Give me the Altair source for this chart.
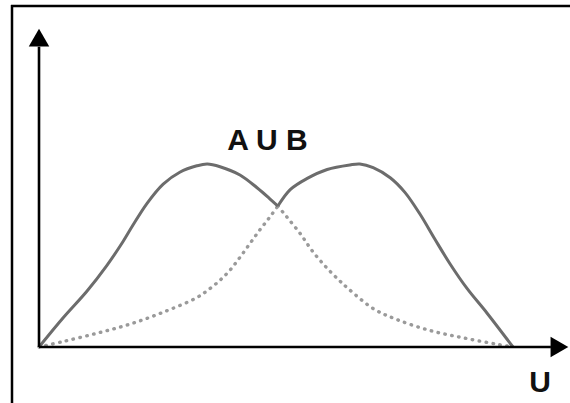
import altair as alt
import pandas as pd

# Membership functions over the universe U (u from 0 to 10, membership 0..1)
# A: visible part (upper envelope) and hidden part (below B)
a_solid_u = [0, 0.51, 1.01, 1.43, 1.77, 1.98, 2.28, 2.62, 2.97, 3.33, 3.55, 3.82, 4.24, 4.60, 4.87, 5.04]
a_solid_m = [0, 0.16, 0.305, 0.445, 0.575, 0.665, 0.785, 0.89, 0.955, 0.99, 1.00, 0.985, 0.94, 0.87, 0.81, 0.77]
a_dot_u = [5.04, 5.23, 5.51, 5.78, 6.08, 6.35, 6.52, 7.05, 7.55, 8.25, 8.95, 9.66, 10]
a_dot_m = [0.77, 0.71, 0.62, 0.52, 0.43, 0.36, 0.32, 0.21, 0.15, 0.09, 0.05, 0.015, 0]

# B: hidden part (below A) and visible part (upper envelope)
b_dot_u = [0, 0.51, 1.22, 1.92, 2.62, 3.33, 3.61, 3.82, 4.03, 4.24, 4.45, 4.66, 4.87, 5.04]
b_dot_m = [0, 0.03, 0.075, 0.125, 0.19, 0.27, 0.32, 0.365, 0.42, 0.49, 0.565, 0.64, 0.71, 0.77]
b_solid_u = [5.04, 5.30, 5.65, 6.08, 6.56, 6.77, 7.05, 7.41, 7.72, 8.04, 8.35, 8.67, 9.03, 9.45, 10]
b_solid_m = [0.77, 0.86, 0.92, 0.97, 0.995, 1.00, 0.98, 0.925, 0.845, 0.725, 0.59, 0.455, 0.32, 0.186, 0]

# Axis extents and arrow heads
axis_x_end = 10.80
axis_y_end = 1.64
arrow_x = [10.98]
arrow_y = [1.69]

label_text = ["A U B", "U"]
label_u = [4.82, 10.57]
label_m = [1.077, -0.246]

X_DOMAIN = [-0.823, 11.203]
Y_DOMAIN = [-0.306, 1.896]

xs = alt.Scale(domain=X_DOMAIN, nice=False, zero=False)
ys = alt.Scale(domain=Y_DOMAIN, nice=False, zero=False)


def curve(us, ms, name):
    return pd.DataFrame({"u": us, "m": ms, "series": name})


solid = pd.concat([curve(a_solid_u, a_solid_m, "A"), curve(b_solid_u, b_solid_m, "B")])
dotted = pd.concat([curve(a_dot_u, a_dot_m, "A"), curve(b_dot_u, b_dot_m, "B")])

X = alt.X("u:Q", scale=xs, axis=None)
Y = alt.Y("m:Q", scale=ys, axis=None)

dotted_lines = alt.Chart(dotted).mark_line(
    color="#9a9a9a", strokeWidth=3.4, strokeDash=[0.5, 6.5], strokeCap="round",
    interpolate="catmull-rom",
).encode(x=X, y=Y, detail="series:N")

solid_lines = alt.Chart(solid).mark_line(
    color="#6c6c6c", strokeWidth=3, interpolate="catmull-rom",
).encode(x=X, y=Y, detail="series:N")

axes_df = pd.DataFrame({
    "u": [0, 0], "u2": [axis_x_end, 0],
    "m": [0, 0], "m2": [0, axis_y_end],
})
axes = alt.Chart(axes_df).mark_rule(color="#000000", strokeWidth=2.6).encode(
    x=alt.X("u:Q", scale=xs, axis=None), x2="u2:Q",
    y=alt.Y("m:Q", scale=ys, axis=None), y2="m2:Q",
)

head_x = alt.Chart(pd.DataFrame({"u": arrow_x, "m": [0]})).mark_point(
    shape="triangle-right", size=420, filled=True, color="#000000", opacity=1,
).encode(x=X, y=Y)
head_y = alt.Chart(pd.DataFrame({"u": [0], "m": arrow_y})).mark_point(
    shape="triangle-up", size=420, filled=True, color="#000000", opacity=1,
).encode(x=X, y=Y)

labels = alt.Chart(pd.DataFrame({"t": label_text, "u": label_u, "m": label_m})).mark_text(
    font="Liberation Sans", fontWeight="bold", fontSize=30, color="#111111",
    align="center", baseline="alphabetic",
).encode(x=X, y=Y, text="t:N")

# Frame lines along the top and left edges
frame_top = alt.Chart().mark_rule(color="#000000", strokeWidth=2.5).encode(
    x=alt.value(11), x2=alt.value(570), y=alt.value(6)
)
frame_left = alt.Chart().mark_rule(color="#000000", strokeWidth=2.5).encode(
    x=alt.value(12), y=alt.value(5), y2=alt.value(403)
)

chart = alt.layer(
    dotted_lines, solid_lines, axes, head_x, head_y, labels, frame_top, frame_left
).properties(
    width=570, height=403, padding=0, background="#ffffff",
    autosize=alt.AutoSizeParams(type="none"),
).configure_view(stroke=None)

chart.save("out.html", embed_options={"renderer": "svg", "actions": False})
